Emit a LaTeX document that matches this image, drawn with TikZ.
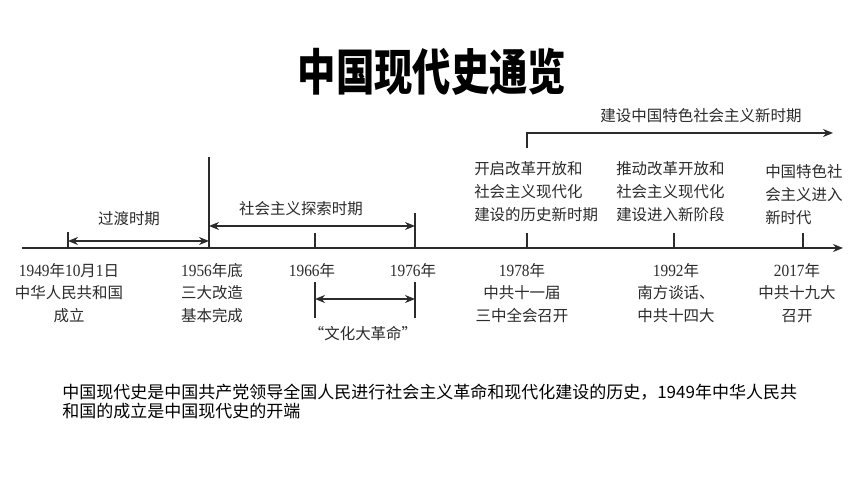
\documentclass[tikz,border=0pt]{standalone}
\usepackage{fontspec}
\usetikzlibrary{arrows.meta}
\newfontfamily\cjk{Noto Sans CJK SC}
\newfontfamily\lser{Liberation Serif}
\newcommand{\dg}[1]{\scalebox{0.9}[1]{\lser\fontsize{12.8pt}{17pt}\selectfont #1}}
\definecolor{ink}{HTML}{2B2B2B}
\tikzset{
  axisline/.style={draw=ink, line width=1.4pt},
  tickline/.style={draw=ink, line width=1pt},
  tip/.style={-{Stealth[length=7.5pt,width=6pt]}},
  dtip/.style={{Stealth[length=7.5pt,width=6pt]}-{Stealth[length=7.5pt,width=6pt]}},
  lab/.style={text=ink, font=\cjk\fontsize{11.6pt}{17pt}\selectfont, inner sep=0pt, align=center},
  lablft/.style={text=ink, font=\cjk\fontsize{11.6pt}{17.25pt}\selectfont, inner sep=0pt, align=left, anchor=west},
  para/.style={text=black, font=\cjk\fontsize{12.75pt}{14.25pt}\selectfont, inner sep=0pt, align=left, anchor=north west},
}
\begin{document}
\begin{tikzpicture}[x=0.75pt,y=-0.75pt]
\useasboundingbox[fill=white] (0,0) rectangle (860,484);
% title
\node[inner sep=0pt] (title) at (432,72) {\scalebox{1.01}[1.3]{\cjk\bfseries\fontsize{28.5pt}{30pt}\selectfont 中国现代史通览}};
% axis coordinates
\coordinate (a0) at (22,248);
\coordinate (a1) at (843,248);
\draw[axisline,tip] (a0) -- (a1);
% ticks
\coordinate (t49b) at (68,248); \coordinate (t49t) at (68,232);
\coordinate (t56b) at (209,248); \coordinate (t56t) at (209,157);
\coordinate (t66b) at (315,248); \coordinate (t66t) at (315,233);
\coordinate (t76b) at (415,248); \coordinate (t76t) at (415,213);
\coordinate (t78b) at (527,248); \coordinate (t78t) at (527,233);
\coordinate (t92b) at (674,248); \coordinate (t92t) at (674,233);
\coordinate (t17b) at (803,248); \coordinate (t17t) at (803,233);
\foreach \n in {49,56,66,76,78,92,17}{\draw[tickline] (t\n b) -- (t\n t);}
% period arrows
\coordinate (g1) at (68,241); \coordinate (g2) at (209,241);
\draw[tickline,dtip] (g1) -- (g2);
\coordinate (s1) at (209,226); \coordinate (s2) at (415,226);
\draw[tickline,dtip] (s1) -- (s2);
% cultural revolution
\coordinate (c1t) at (315,282); \coordinate (c1b) at (315,318);
\coordinate (c2t) at (415,282); \coordinate (c2b) at (415,318);
\draw[tickline] (c1t) -- (c1b);
\draw[tickline] (c2t) -- (c2b);
\coordinate (c1) at (315,299); \coordinate (c2) at (415,299);
\draw[tickline,dtip] (c1) -- (c2);
% bracket
\coordinate (b0) at (527,148); \coordinate (b1) at (527,133); \coordinate (b2) at (833,133);
\draw[tickline,tip] (b0) -- (b1) -- (b2);
% period labels
\node[lab] (guodu) at (129,219) {过渡时期};
\node[lab] (tansuo) at (301,209) {社会主义探索时期};
\node[lab] (tese) at (701,116) {建设中国特色社会主义新时期};
% bottom labels
\node[lab] (l49) at (69,293) {\dg{1949}年\dg{10}月\dg{1}日\\中华人民共和国\\成立};
\node[lab] (l56) at (212,293) {\dg{1956}年底\\三大改造\\基本完成};
\node[lab] (l66) at (312,271) {\dg{1966}年};
\node[lab] (l76) at (413,271) {\dg{1976}年};
\node[lab] (wg) at (363,334) {“文化大革命”};
\node[lab] (l78) at (522,293) {\dg{1978}年\\中共十一届\\三中全会召开};
\node[lab] (l92) at (676,293) {\dg{1992}年\\南方谈话、\\中共十四大};
\node[lab] (l17) at (797,293) {\dg{2017}年\\中共十九大\\召开};
% upper labels
\node[lablft] (u78) at (474,192) {开启改革开放和\\社会主义现代化\\建设的历史新时期};
\node[lablft] (u92) at (616,192) {推动改革开放和\\社会主义现代化\\建设进入新阶段};
\node[lablft] (u17) at (765,195) {中国特色社\\会主义进入\\新时代};
% paragraph
\node[para] (p) at (62,384) {中国现代史是中国共产党领导全国人民进行社会主义革命和现代化建设的历史，1949年中华人民共\\和国的成立是中国现代史的开端};
\end{tikzpicture}
\end{document}
